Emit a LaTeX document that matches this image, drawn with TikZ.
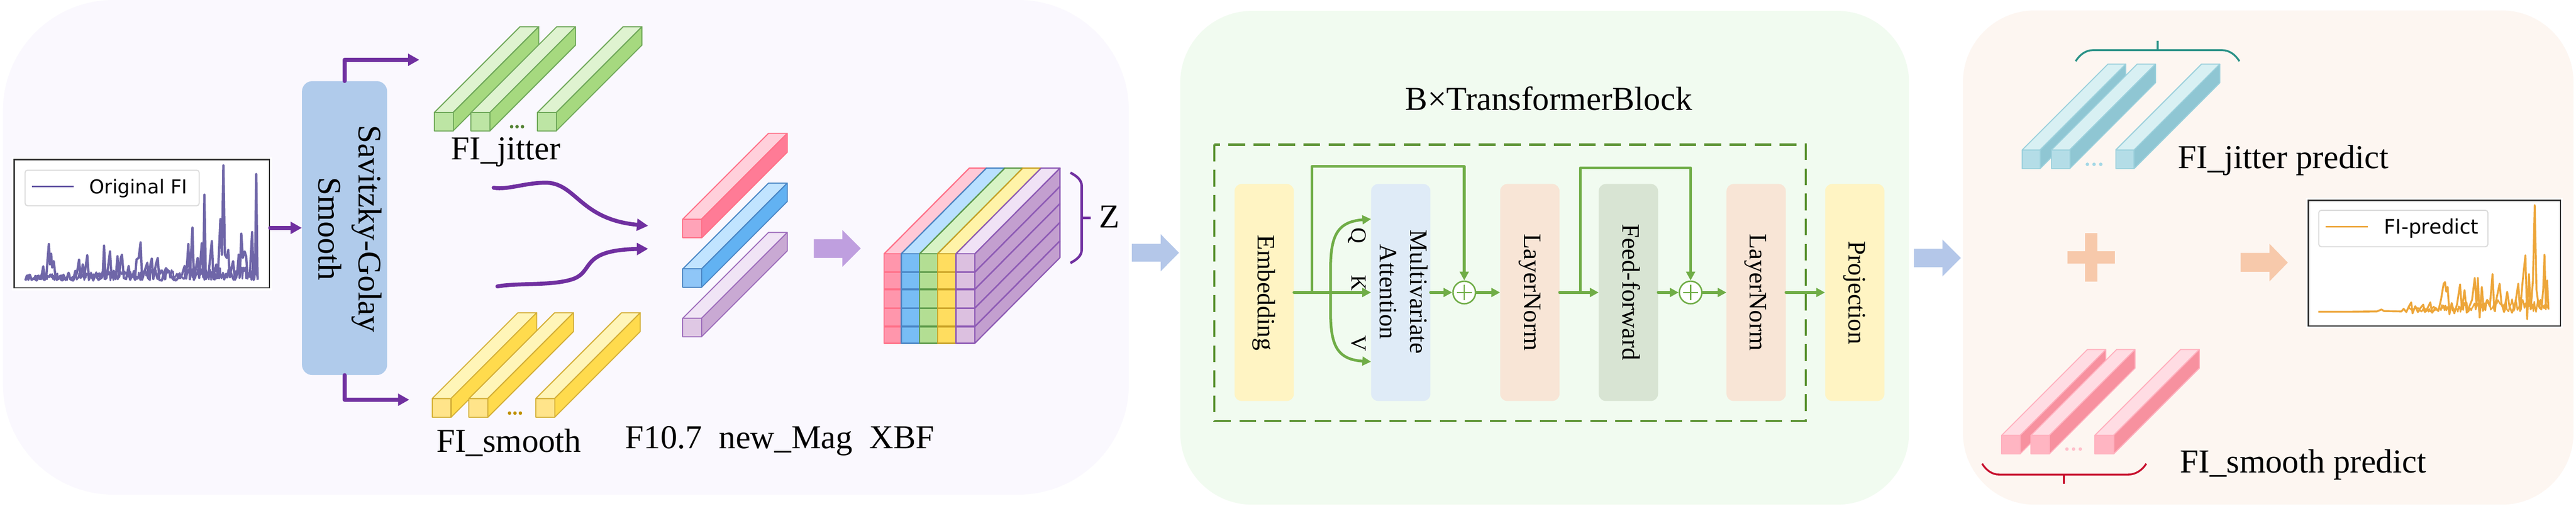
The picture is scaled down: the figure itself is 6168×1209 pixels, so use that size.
\documentclass[tikz,border=0pt]{standalone}
\usepackage{fontspec}
\setmainfont{Liberation Serif}
\newfontfamily\chartfont{DejaVu Sans}
\usetikzlibrary{arrows.meta,calc}
\definecolor{purp}{HTML}{7030A0}
\definecolor{grn}{HTML}{70AD47}
\definecolor{dashgrn}{HTML}{5B9332}
\definecolor{panelA}{HTML}{FAF8FE}
\definecolor{panelB}{HTML}{F1FBF0}
\definecolor{panelC}{HTML}{FDF6F1}
\definecolor{sgblue}{HTML}{B0CBEB}
\definecolor{bigpurple}{HTML}{BF9FDF}
\definecolor{bigblue}{HTML}{B4C7E9}
\definecolor{bigorange}{HTML}{F7C9AB}
% prisms
\definecolor{gF}{HTML}{BDE5A4}\definecolor{gT}{HTML}{DFF3D0}\definecolor{gS}{HTML}{A6D97F}\definecolor{gL}{HTML}{6FA85A}\definecolor{gD}{HTML}{548235}
\definecolor{yF}{HTML}{FFE48A}\definecolor{yT}{HTML}{FFF5B8}\definecolor{yS}{HTML}{FFDB4D}\definecolor{yL}{HTML}{D4AF37}\definecolor{yD}{HTML}{BF9000}
\definecolor{pF}{HTML}{FFA3B8}\definecolor{pT}{HTML}{FFD0DB}\definecolor{pS}{HTML}{FF7B96}\definecolor{pL}{HTML}{FF7088}
\definecolor{bF}{HTML}{8FC6F7}\definecolor{bT}{HTML}{C1E4FF}\definecolor{bS}{HTML}{62B2F2}\definecolor{bL}{HTML}{4A86C5}
\definecolor{vF}{HTML}{DFC8E4}\definecolor{vT}{HTML}{F0E4F5}\definecolor{vS}{HTML}{C9A9D3}\definecolor{vL}{HTML}{9C6BBB}
\definecolor{cF}{HTML}{B4DDE7}\definecolor{cT}{HTML}{D8F0F3}\definecolor{cS}{HTML}{8FC6D3}\definecolor{cL}{HTML}{9BD0DC}\definecolor{cD}{HTML}{A5D8E6}
\definecolor{rF}{HTML}{FFB5C2}\definecolor{rT}{HTML}{FFDCE3}\definecolor{rS}{HTML}{F7919F}\definecolor{rL}{HTML}{FFB0BE}\definecolor{rD}{HTML}{FFC0CB}
% cube
\definecolor{cubeP}{HTML}{FF96AC}\definecolor{cubeB}{HTML}{78BDF5}\definecolor{cubeG}{HTML}{B3DE93}\definecolor{cubeY}{HTML}{FFDD5F}\definecolor{cubeV}{HTML}{DCC0E0}
\definecolor{cubeTP}{HTML}{FFC9D7}\definecolor{cubeTB}{HTML}{B9E0FF}\definecolor{cubeTG}{HTML}{D8F3C5}\definecolor{cubeTY}{HTML}{FFF3A8}\definecolor{cubeTV}{HTML}{F0E2F5}
\definecolor{cubeS}{HTML}{C39FCF}
\definecolor{cubeLG}{HTML}{5E9A4A}\definecolor{cubeLY}{HTML}{C9A227}\definecolor{cubeLV}{HTML}{8E5BB5}
% transformer
\definecolor{embY}{HTML}{FFF4C3}\definecolor{maB}{HTML}{DFEBF7}\definecolor{lnO}{HTML}{F8E5D6}\definecolor{ffG}{HTML}{D8E4D3}
\definecolor{series1}{HTML}{6F66A8}\definecolor{legend1}{HTML}{5E50A0}\definecolor{series2}{HTML}{EDA63A}
\definecolor{tealbrace}{HTML}{2A9287}\definecolor{redbrace}{HTML}{C8102E}
\newcommand{\fsize}[1]{\fontsize{#1}{#1}\selectfont}
% x y w h front top side stroke
\newcommand{\prismbar}[8]{%
  \fill[#6,draw=#8,line width=2.5pt,line join=round] (#1,#2) -- ++(205,-205) -- ++(#3,0) -- ++(-205,205) -- cycle;
  \fill[#7,draw=#8,line width=2.5pt,line join=round] (#1+#3,#2) -- ++(205,-205) -- ++(0,#4) -- ++(-205,205) -- cycle;
  \fill[#5,draw=#8,line width=2.5pt,line join=round] (#1,#2) rectangle ++(#3,#4);
}
\newcommand{\threedots}[4]{%
  \foreach \i in {0,1,2} \fill[#4] (#1+\i*#3,#2) circle (4.2pt);
}
% x1 x2 top bottom fill line : cube top strip and front column
\newcommand{\cubecol}[5]{%
  \fill[#4,draw=#5,line width=3pt,line join=round] (#1,607) -- ++(204,-205) -- (#2+204,402) -- (#2,607) -- cycle;
  \fill[#3,draw=#5,line width=3pt,line join=round] (#1,607) rectangle (#2,821);
  \foreach \yy in {651,692,737,781} \draw[#5,line width=4pt] (#1,\yy) -- (#2,\yy);
}
\tikzset{
  bluebox/.style={inner sep=0pt,rounded corners=17pt,minimum height=519pt},
  vtext/.style={rotate=-90,anchor=base,inner sep=0pt,font=\fsize{60}},
  letter/.style={rotate=-90,anchor=base,inner sep=0pt,font=\fsize{52}},
  labeltext/.style={anchor=base west,inner sep=0pt,font=\fsize{80}},
  parrow/.style={draw=purp,line width=9.5pt,line cap=round,line join=round,-{Triangle[length=27pt,width=28pt]}},
  garrow/.style={draw=grn,line width=6.5pt,line cap=round,line join=round,-{Triangle[length=21pt,width=21pt]}},
  plusnode/.style={circle,draw=grn,fill=white,line width=3.5pt,minimum size=54pt,inner sep=0pt},
  legendbox/.style={draw=black!14,fill=white,line width=2.5pt,rounded corners=6pt},
  chartbox/.style={draw=black!80,fill=white,line width=3pt},
}
\begin{document}
\begin{tikzpicture}[x=1pt,y=-1pt]
\useasboundingbox (0,0) rectangle (6168,1209);
\fill[white] (0,0) rectangle (6168,1209);
% panels
\fill[panelA,rounded corners=265pt] (7,0) rectangle (2703,1183);
\fill[panelB,rounded corners=172pt] (2826,26) rectangle (4571,1207);
\fill[panelC,rounded corners=172pt] (4700,25) rectangle (6162,1207);

% --- original FI chart
\fill[white] (28,376) rectangle (651,694);
\node[chartbox,inner sep=0pt,minimum width=611pt,minimum height=306pt] (chartA) at (339.5,535) {};
\begin{scope}[x=0.893pt,y=-0.771pt]
\pgfmathsetseed{7}
\draw[series1,line width=4pt,line join=round] (68,870) foreach \i in {70,72,...,690} { -- ({\i},{870-rnd*(14+\i*0.05)}) };
\draw[series1,line width=5.5pt,line join=round] plot coordinates {(68,870)(72,855)(76,868)(80,852)(85,868)(92,862)(98,870)(104,860)(110,866)(116,826)(120,868)(124,860)(128,800)(131,757)(134,820)(137,787)(140,830)(144,810)(148,850)(152,868)(160,862)(166,870)(174,864)(180,860)(184,846)(188,866)(196,870)(202,840)(206,850)(212,805)(216,862)(222,820)(226,858)(234,792)(238,860)(244,848)(250,870)(256,852)(264,868)(272,862)(276,840)(279,762)(283,866)(288,845)(295,780)(299,860)(305,840)(310,866)(315,795)(319,860)(324,800)(327,790)(332,862)(338,866)(345,825)(349,868)(356,850)(362,868)(366,805)(372,800)(377,752)(381,868)(388,840)(395,815)(399,866)(403,822)(407,802)(411,866)(418,820)(423,800)(427,868)(434,870)(440,845)(445,832)(452,842)(458,855)(464,866)(472,870)(480,858)(488,852)(495,825)(499,864)(505,757)(509,866)(516,706)(520,868)(526,825)(530,800)(534,862)(541,755)(545,860)(548,604)(552,866)(560,840)(568,748)(572,860)(580,820)(584,862)(591,680)(595,790)(599,513)(603,790)(608,800)(612,775)(616,860)(621,830)(625,810)(630,868)(636,850)(640,790)(643,860)(647,725)(651,800)(656,780)(660,795)(664,860)(670,850)(676,720)(680,868)(684,830)(687,540)(690,828)(691,868)};
\end{scope}
\node[legendbox,inner sep=0pt,minimum width=417pt,minimum height=85pt] (legA) at (268.5,449.5) {};
\draw[legend1,line width=3pt] (76,446) -- (176,446);
\node[anchor=base west,inner sep=0pt,font=\chartfont\fsize{46}] (legAtext) at (214,463) {Original FI};

% --- Savitzky-Golay
\node[inner sep=0pt,fill=sgblue,rounded corners=25pt,minimum width=204pt,minimum height=703pt] (sg) at (825,545.5) {};
\node[rotate=-90,inner sep=0pt,align=center,font=\fontsize{79}{96}\selectfont] (sgtext) at (838,547) {Savitzky-Golay\\Smooth};
\coordinate (toA) at (1004,143);
\coordinate (toB) at (980,956);
\coordinate (chartOut) at (647,545);
\draw[parrow] (chartOut) -- (chartOut -| sg.west);
\draw[parrow] (sg.north) |- (toA);
\draw[parrow] (sg.south) |- (toB);

% --- FI_jitter prisms
\prismbar{1040}{269}{45}{44}{gF}{gT}{gS}{gL}
\prismbar{1128}{269}{45}{44}{gF}{gT}{gS}{gL}
\prismbar{1287}{269}{45}{44}{gF}{gT}{gS}{gL}
\threedots{1225}{303}{13}{gD}
\node[labeltext] (jit) at (1080,382) {FI\_jitter};
% --- FI_smooth prisms
\prismbar{1035}{953}{45}{45}{yF}{yT}{yS}{yL}
\prismbar{1123}{953}{45}{45}{yF}{yT}{yS}{yL}
\prismbar{1283}{953}{45}{45}{yF}{yT}{yS}{yL}
\threedots{1220}{988}{13}{yD}
\node[labeltext] (smo) at (1045,1081) {FI\_smooth};
\node[labeltext] (feat) at (1497,1073) {F10.7~~new\_Mag~~XBF};

% --- merging curves
\coordinate (cA) at (1182,449);
\coordinate (cB) at (1191,685);
\coordinate (cT1) at (1552,540);
\coordinate (cT2) at (1552,595);
\draw[parrow] (cA) .. controls (1215,455) and (1260,436) .. (1310,437) .. controls (1380,440) and (1390,525) .. (cT1);
\draw[parrow] (cB) .. controls (1240,676) and (1320,684) .. (1370,668) .. controls (1425,650) and (1385,598) .. (cT2);

% --- feature prisms
\prismbar{1635}{524}{45}{45}{pF}{pT}{pS}{pL}
\prismbar{1635}{643}{45}{44}{bF}{bT}{bS}{bL}
\prismbar{1635}{761}{45}{44}{vF}{vT}{vS}{vL}

% --- big purple arrow
\fill[bigpurple] (1948.5,572) -- (2017,572) -- (2017,550) -- (2061,594) -- (2017,638) -- (2017,617) -- (1948.5,617) -- cycle;

% --- cube
\fill[cubeS,draw=cubeLV,line width=3pt,line join=round] (2334,607) -- (2538,402) -- (2538,616) -- (2334,821) -- cycle;
\foreach \yy in {651,692,737,781} \draw[cubeLV,line width=3.5pt] (2334,\yy) -- ++(204,-205);
\cubecol{2117}{2158}{cubeP}{cubeTP}{pL}
\cubecol{2158}{2202}{cubeB}{cubeTB}{bL}
\cubecol{2202}{2245}{cubeG}{cubeTG}{cubeLG}
\cubecol{2245}{2289}{cubeY}{cubeTY}{cubeLY}
\cubecol{2289}{2334}{cubeV}{cubeTV}{cubeLV}
\coordinate (zTop) at (2563,413);
\coordinate (zBot) at (2563,629);
\coordinate (zTick) at (2612,521);
\draw[purp,line width=6pt] (zTop) .. controls (2578,421) and (2590,430) .. (2590,445) -- (2590,597) .. controls (2590,612) and (2578,621) .. (zBot);
\draw[purp,line width=6pt] (2590,521) -- (zTick);
\node[labeltext] (zlabel) at (2632,545) {Z};

% --- blue arrow 1
\fill[bigblue] (2710,583) -- (2779,583) -- (2779,560) -- (2823,604.5) -- (2779,649) -- (2779,626) -- (2710,626) -- cycle;

% --- transformer
\node[anchor=base west,inner sep=0pt,font=\fsize{80}] (title) at (3365,263) {B×TransformerBlock};
\draw[dashgrn,line width=5pt,dash pattern=on 40pt off 20pt] (2908,346) rectangle (4324,1006.5);
\node[bluebox,fill=embY,minimum width=142pt] (emb) at (3027,699.5) {};
\node[bluebox,fill=maB,minimum width=142pt] (ma) at (3354,699.5) {};
\node[bluebox,fill=lnO,minimum width=142pt] (lnA) at (3663,699.5) {};
\node[bluebox,fill=ffG,minimum width=142pt] (ff) at (3899,699.5) {};
\node[bluebox,fill=lnO,minimum width=142pt] (lnB) at (4205,699.5) {};
\node[bluebox,fill=embY,minimum width=142pt] (proj) at (4441,699.5) {};
\node[vtext] (embt) at (3012,700) {Embedding};
\node[rotate=-90,inner sep=0pt,align=center,font=\fontsize{60}{72}\selectfont] (mat) at (3361,698) {Multivariate\\Attention};
\node[vtext] (lnAt) at (3650,699) {LayerNorm};
\node[vtext] (fft) at (3885,699) {Feed-forward};
\node[vtext] (lnBt) at (4190,699) {LayerNorm};
\node[vtext] (projt) at (4427,700) {Projection};
\node[letter] (qq) at (3236,564) {Q};
\node[letter] (kk) at (3236,677) {K};
\node[letter] (vv) at (3236,821) {V};
\node[plusnode] (plusA) at (3506,699.5) {};
\node[plusnode] (plusB) at (4048,699.5) {};
\draw[grn,line width=3pt] (plusA.center) +(-18,0) -- +(18,0) +(0,-18) -- +(0,18);
\draw[grn,line width=3pt] (plusB.center) +(-18,0) -- +(18,0) +(0,-18) -- +(0,18);
\coordinate (splitA) at (3141.5,699.5);
\coordinate (splitB) at (3784,699.5);
\coordinate (splitQ) at (3186,699.5);
\coordinate (qTip) at (3283,524);
\coordinate (vTip) at (3283,865);
\draw[garrow] (emb.east) -- (ma.west);
\draw[garrow] (splitA) -- ++(0,-301.5) -| (plusA.north);
\draw[garrow] (splitQ) -- (3186,640) .. controls (3186,560) and (3205,530) .. (qTip);
\draw[garrow] (splitQ) -- (3186,750) .. controls (3186,830) and (3205,860) .. (vTip);
\draw[garrow] (ma.east) -- (plusA.west);
\draw[garrow] (plusA.east) -- (lnA.west);
\draw[garrow] (lnA.east) -- (ff.west);
\draw[garrow] (splitB) -- ++(0,-298) -| (plusB.north);
\draw[garrow] (ff.east) -- (plusB.west);
\draw[garrow] (plusB.east) -- (lnB.west);
\draw[garrow] (lnB.east) -- (proj.west);

% --- blue arrow 2
\fill[bigblue] (4583,595) -- (4651,595) -- (4651,573) -- (4695,617) -- (4651,661) -- (4651,639) -- (4583,639) -- cycle;

% --- predict jitter
\prismbar{4842}{358.5}{43}{44.5}{cF}{cT}{cS}{cL}
\prismbar{4912}{358.5}{44}{44.5}{cF}{cT}{cS}{cL}
\prismbar{5066}{358.5}{44}{44.5}{cF}{cT}{cS}{cL}
\threedots{4998}{393}{16}{cD}
\coordinate (tL) at (4970,146.5);
\coordinate (tR) at (5362,146.5);
\coordinate (tTick) at (5166,97);
\draw[tealbrace,line width=4.5pt] (tL) .. controls (4980,130) and (4995,120) .. (5011,120) -- (5321,120) .. controls (5337,120) and (5352,130) .. (tR);
\draw[tealbrace,line width=4.5pt] (5166,120) -- (tTick);
\node[labeltext] (jp) at (5215,403) {FI\_jitter predict};

% --- predict smooth
\prismbar{4793}{1041}{44}{44.5}{rF}{rT}{rS}{rL}
\prismbar{4863}{1041}{44}{44.5}{rF}{rT}{rS}{rL}
\prismbar{5016}{1041}{45}{44.5}{rF}{rT}{rS}{rL}
\threedots{4949}{1074}{16}{rD}
\coordinate (rL) at (4746,1109);
\coordinate (rR) at (5139,1109);
\coordinate (rTick) at (4941.5,1156.5);
\draw[redbrace,line width=4.5pt] (rL) .. controls (4756,1125) and (4770,1135) .. (4787,1135) -- (5096,1135) .. controls (5113,1135) and (5129,1125) .. (rR);
\draw[redbrace,line width=4.5pt] (4941.5,1135) -- (rTick);
\node[labeltext] (sp) at (5220,1131) {FI\_smooth predict};

% --- plus and orange arrow
\fill[bigorange] (4992.5,558) rectangle (5022,673);
\fill[bigorange] (4950,600.5) rectangle (5064,630);
\fill[bigorange] (5365,605) -- (5434,605) -- (5434,583) -- (5478,628) -- (5434,673) -- (5434,650) -- (5365,650) -- cycle;

% --- FI predict chart
\fill[white] (5522,474) rectangle (6136,785);
\node[chartbox,inner sep=0pt,minimum width=604pt,minimum height=300.5pt] (chartB) at (5829,629.25) {};
\begin{scope}[shift={(4500pt,0pt)},x=1.0638pt,y=-0.771pt]
\pgfmathsetseed{11}
\draw[series2,line width=3.5pt,line join=round] (1190,955) foreach \i in {1192,1194,...,1506} { -- ({\i},{968-rnd*(15+(\i-1190)*0.12)}) };
\draw[series2,line width=4.5pt,line join=round] plot coordinates {(988,967)(1060,967)(1120,966)(1130,960)(1136,965)(1175,966)(1180,958)(1186,968)(1192,950)(1197,938)(1200,972)(1206,950)(1212,968)(1218,955)(1224,945)(1228,968)(1234,955)(1240,938)(1244,970)(1252,955)(1258,965)(1264,930)(1270,880)(1273,875)(1276,905)(1279,890)(1283,975)(1288,940)(1294,972)(1300,945)(1307,882)(1311,960)(1317,900)(1322,970)(1328,950)(1334,930)(1340,862)(1344,950)(1347,862)(1351,985)(1356,890)(1360,960)(1368,930)(1374,950)(1380,850)(1384,960)(1390,920)(1396,880)(1400,940)(1406,968)(1413,905)(1418,950)(1424,970)(1432,935)(1438,880)(1442,965)(1448,870)(1454,792)(1458,990)(1462,850)(1466,960)(1471,870)(1475,636)(1479,900)(1484,950)(1490,960)(1494,900)(1497,790)(1500,950)(1503,870)(1506,960)};
\end{scope}
\node[legendbox,inner sep=0pt,minimum width=405pt,minimum height=87pt] (legB) at (5754.5,546.5) {};
\draw[series2,line width=3.5pt] (5568,542) -- (5670,542);
\node[anchor=base west,inner sep=0pt,font=\chartfont\fsize{48}] (legBtext) at (5708,559) {FI-predict};
\end{tikzpicture}
\end{document}
